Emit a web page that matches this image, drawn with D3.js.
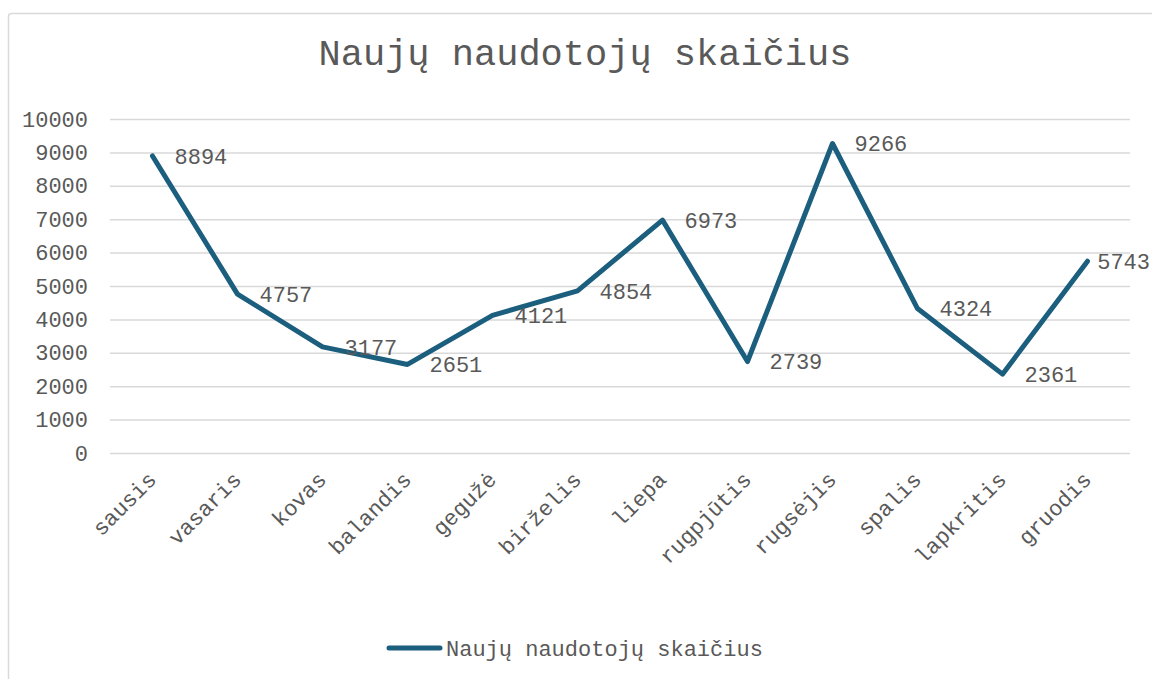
<!DOCTYPE html>
<html><head><meta charset="utf-8">
<script src="https://cdn.jsdelivr.net/npm/d3@7"></script>
<style>body{margin:0;background:#fff}svg{display:block}text{font-family:"Liberation Mono","Courier New",monospace;fill:#595959}</style>
</head><body><svg id="c" width="1152" height="679"></svg>
<script>
const months = ["sausis","vasaris","kovas","balandis","gegužė","birželis","liepa","rugpjūtis","rugsėjis","spalis","lapkritis","gruodis"];
const values = [8894,4757,3177,2651,4121,4854,6973,2739,9266,4324,2361,5743];
const yTicks = [0,1000,2000,3000,4000,5000,6000,7000,8000,9000,10000];
const title = "Naujų naudotojų skaičius";
const seriesName = "Naujų naudotojų skaičius";

const svg = d3.select("#c");
const color = "#1b5e7e";
svg.append("rect").attr("x",8.5).attr("y",13.5).attr("width",1160).attr("height",680)
  .attr("rx",3).attr("fill","#fff").attr("stroke","#d9d9d9").attr("stroke-width",1.5);

const x = d3.scaleBand().domain(months).range([110,1130]);
const y = d3.scaleLinear().domain([0,10000]).range([453,119]);

svg.append("text").attr("x",585).attr("y",65).attr("text-anchor","middle")
  .style("font-size","37px").text(title);

const gy = svg.append("g").attr("transform","translate(110,0)")
  .call(d3.axisLeft(y).tickValues(yTicks).tickSize(-1020).tickPadding(22).tickFormat(d3.format("d")));
gy.select(".domain").remove();
gy.selectAll(".tick line").attr("stroke","#d9d9d9").attr("stroke-width",1.5);
gy.selectAll(".tick text").style("font-size","22px").attr("fill","#595959");

const gx = svg.append("g").attr("transform","translate(0,453)")
  .call(d3.axisBottom(x).tickSize(0).tickPadding(0));
gx.select(".domain").remove();
gx.selectAll(".tick text").style("font-size","22px").attr("fill","#595959")
  .attr("text-anchor","end").attr("dy",0).attr("y",0)
  .attr("transform","translate(5,28) rotate(-45)");

const cx = d => x(d) + x.bandwidth()/2;
svg.append("path").datum(values.map((v,i)=>[cx(months[i]), y(v)]))
  .attr("d", d3.line()).attr("fill","none").attr("stroke",color).attr("stroke-width",5)
  .attr("stroke-linejoin","round").attr("stroke-linecap","round");

svg.selectAll(".lbl").data(values).enter().append("text").attr("class","lbl")
  .style("font-size","22px").attr("dy","0.35em")
  .attr("y",(d)=>y(d))
  .text(d=>d)
  .each(function(d,i){
    const w = this.getComputedTextLength();
    const px = Math.min(cx(months[i]) + 22, 1150 - w);
    d3.select(this).attr("x", px);
  });

svg.append("line").attr("x1",389).attr("x2",440).attr("y1",648).attr("y2",648)
  .attr("stroke",color).attr("stroke-width",5).attr("stroke-linecap","round");
svg.append("text").attr("x",446).attr("y",648).attr("dy","0.35em").style("font-size","22px").text(seriesName);
</script></body></html>
